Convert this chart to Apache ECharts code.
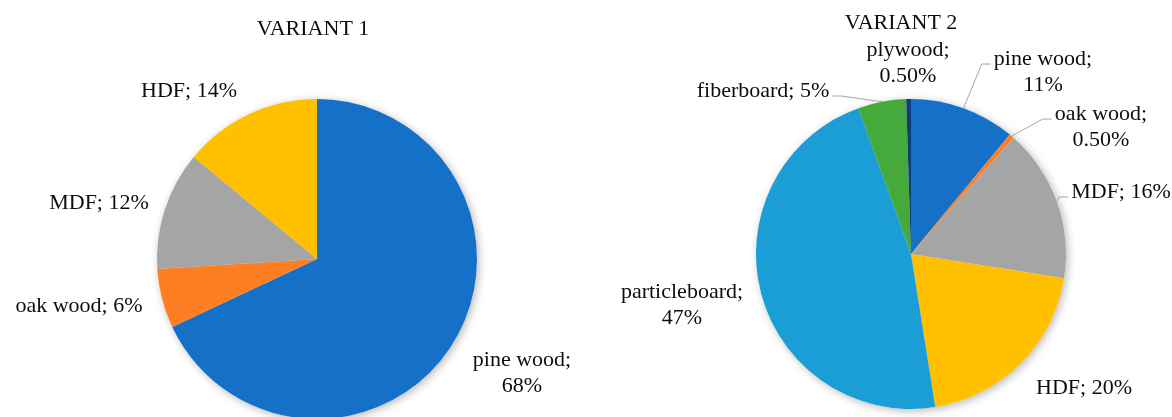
<!DOCTYPE html>
<html>
<head>
<meta charset="utf-8">
<script src="https://cdn.jsdelivr.net/npm/echarts@6/dist/echarts.min.js"></script>
<style>
html, body { margin: 0; padding: 0; background: #ffffff; }
#chart { width: 1172px; height: 417px; }
</style>
</head>
<body>
<div id="chart"></div>
<script>
// ---------------- data ----------------
const titles = ['VARIANT 1', 'VARIANT 2'];
const categories1 = ['pine wood', 'oak wood', 'MDF', 'HDF'];
const values1 = [68, 6, 12, 14];
const categories2 = ['pine wood', 'oak wood', 'MDF', 'HDF', 'particleboard', 'fiberboard', 'plywood'];
const values2 = [11, 0.5, 16, 20, 47, 5, 0.5];

// ---------------- styles & layout ----------------
const colorMap = {
  'pine wood': '#1570c8',
  'oak wood': '#fd7e23',
  'MDF': '#a5a5a5',
  'HDF': '#ffc000',
  'particleboard': '#1b9dd6',
  'fiberboard': '#45aa3b',
  'plywood': '#0c3f7a'
};
const FONT = '"Liberation Serif", "Times New Roman", serif';
const FS = 22;
const LH = 26;
const TEXT_COLOR = '#0d0d0d';
const LINE_COLOR = '#a6a6a6';

const pieLayout1 = { center: [317, 259], radius: 160 };
const pieLayout2 = { center: [911, 254], radius: 155 };
// label centres (px)
const labelPos1 = [[522, 373], [79, 306], [99, 203], [189, 91]];
const labelWrap1 = [true, false, false, false];
const leader1 = [false, false, false, false];
const labelPos2 = [[1043, 72], [1101, 127], [1121, 192], [1084, 388], [682, 305], [763, 91], [908, 63]];
const labelWrap2 = [true, true, false, false, true, false, true];
const leader2 = [true, true, true, false, false, true, false];

function pct(v) { return (v < 1 ? v.toFixed(2) : String(v)) + '%'; }

function makeData(cats, vals, leader) {
  return cats.map(function (c, i) {
    return {
      name: c,
      value: vals[i],
      itemStyle: { color: colorMap[c] },
      labelLine: { show: !!leader[i] }
    };
  });
}

function makeLayout(pos, leader) {
  return function (p) {
    const i = p.dataIndex;
    const x = pos[i][0], y = pos[i][1];
    const out = { x: x, y: y, align: 'center', verticalAlign: 'middle' };
    if (leader[i] && p.labelLinePoints) {
      const w = p.labelRect.width, h = p.labelRect.height;
      const s = p.labelLinePoints[0];
      const toLeft = s[0] < x;
      const ay = y - h / 2 + LH / 2 + 5;
      const ax = toLeft ? x - w / 2 - 3 : x + w / 2 + 3;
      const ex = toLeft ? ax - 9 : ax + 9;
      out.labelLinePoints = [[s[0], s[1]], [ex, ay], [ax, ay]];
    }
    return out;
  };
}

function shadowSeries(cats, vals, lay) {
  return {
    type: 'pie',
    silent: true,
    z: 1,
    center: lay.center,
    radius: lay.radius,
    startAngle: 90,
    clockwise: true,
    animation: false,
    label: { show: false },
    labelLine: { show: false },
    tooltip: { show: false },
    itemStyle: {
      color: '#ffffff',
      shadowBlur: 9,
      shadowOffsetX: 2,
      shadowOffsetY: 2,
      shadowColor: 'rgba(0,0,0,0.28)'
    },
    data: cats.map(function (c, i) { return { name: c, value: vals[i] }; })
  };
}

function mainSeries(cats, vals, lay, pos, wrap, leader) {
  return {
    type: 'pie',
    z: 2,
    center: lay.center,
    radius: lay.radius,
    startAngle: 90,
    clockwise: true,
    animation: false,
    avoidLabelOverlap: false,
    itemStyle: { borderWidth: 0 },
    label: {
      show: true,
      position: 'outside',
      overflow: 'none',
      color: TEXT_COLOR,
      fontFamily: FONT,
      fontSize: FS,
      lineHeight: LH,
      formatter: function (p) {
        return cats[p.dataIndex] + ';' + (wrap[p.dataIndex] ? '\n' : ' ') + pct(vals[p.dataIndex]);
      }
    },
    labelLine: {
      show: true,
      smooth: false,
      lineStyle: { color: LINE_COLOR, width: 1 }
    },
    labelLayout: makeLayout(pos, leader),
    emphasis: { disabled: true },
    data: makeData(cats, vals, leader)
  };
}

const chart = echarts.init(document.getElementById('chart'), null, { renderer: 'canvas' });
chart.setOption({
  backgroundColor: '#ffffff',
  animation: false,
  title: [
    {
      text: titles[0], left: 313, top: 18, textAlign: 'center', padding: 0,
      textStyle: { fontFamily: FONT, fontSize: FS, fontWeight: 'normal', color: TEXT_COLOR }
    },
    {
      text: titles[1], left: 901, top: 12, textAlign: 'center', padding: 0,
      textStyle: { fontFamily: FONT, fontSize: FS, fontWeight: 'normal', color: TEXT_COLOR }
    }
  ],
  series: [
    shadowSeries(categories1, values1, pieLayout1),
    mainSeries(categories1, values1, pieLayout1, labelPos1, labelWrap1, leader1),
    shadowSeries(categories2, values2, pieLayout2),
    mainSeries(categories2, values2, pieLayout2, labelPos2, labelWrap2, leader2)
  ]
});
</script>
</body>
</html>
